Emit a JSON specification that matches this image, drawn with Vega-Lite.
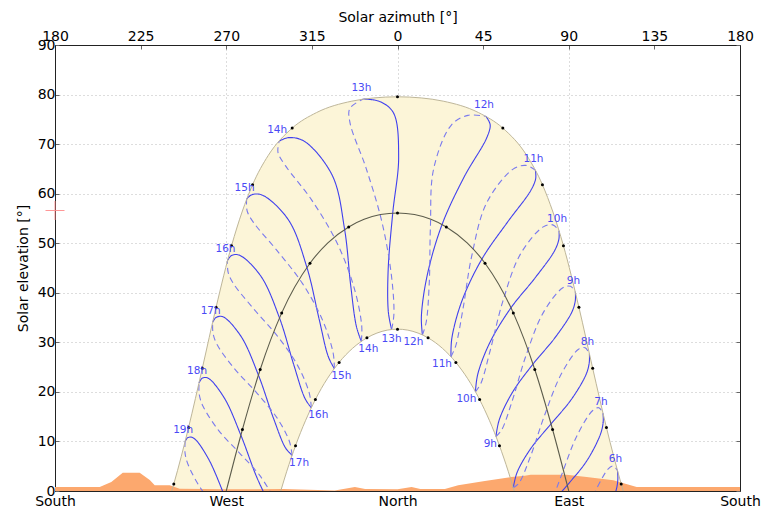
{
 "$schema": "https://vega.github.io/schema/vega-lite/v6.json",
 "width": 685,
 "height": 446,
 "autosize": {"type": "none"},
 "padding": {"left": 55, "top": 45, "right": 23, "bottom": 21},
 "config": {
  "view": {"stroke": null},
  "font": "DejaVu Sans",
  "axis": {"zindex": 1, "labelFont": "DejaVu Sans", "titleFont": "DejaVu Sans", "labelFontSize": 14, "titleFontSize": 14, "labelColor": "#000000", "titleColor": "#000000", "titleFontWeight": "normal", "domainColor": "#222222", "domainWidth": 1, "tickColor": "#666666", "tickSize": -4, "labelFlush": false, "labelOverlap": false, "labelBound": false, "gridColor": "#bbbbbb", "gridDash": [1, 3], "gridWidth": 1}
 },
 "datasets": {
  "arcs": [
   {"curve": "outer", "az": 118.64, "alt": 0, "dot": false},
   {"curve": "outer", "az": 117.57, "alt": 1.42, "dot": true},
   {"curve": "outer", "az": 109.8, "alt": 12.82, "dot": true},
   {"curve": "outer", "az": 102.58, "alt": 24.77, "dot": true},
   {"curve": "outer", "az": 95.35, "alt": 37.06, "dot": true},
   {"curve": "outer", "az": 87.21, "alt": 49.5, "dot": true},
   {"curve": "outer", "az": 76.17, "alt": 61.81, "dot": true},
   {"curve": "outer", "az": 67.9, "alt": 67.73, "dot": false},
   {"curve": "outer", "az": 55.36, "alt": 73.23, "dot": true},
   {"curve": "outer", "az": 42.52, "alt": 76.37, "dot": false},
   {"curve": "outer", "az": 24.0, "alt": 78.67, "dot": false},
   {"curve": "outer", "az": 12.47, "alt": 79.32, "dot": false},
   {"curve": "outer", "az": 0, "alt": 79.55, "dot": true},
   {"curve": "outer", "az": -12.47, "alt": 79.32, "dot": false},
   {"curve": "outer", "az": -24.0, "alt": 78.67, "dot": false},
   {"curve": "outer", "az": -42.52, "alt": 76.37, "dot": false},
   {"curve": "outer", "az": -55.36, "alt": 73.23, "dot": true},
   {"curve": "outer", "az": -67.9, "alt": 67.73, "dot": false},
   {"curve": "outer", "az": -76.17, "alt": 61.81, "dot": true},
   {"curve": "outer", "az": -87.21, "alt": 49.5, "dot": true},
   {"curve": "outer", "az": -95.35, "alt": 37.06, "dot": true},
   {"curve": "outer", "az": -102.58, "alt": 24.77, "dot": true},
   {"curve": "outer", "az": -109.8, "alt": 12.82, "dot": true},
   {"curve": "outer", "az": -117.57, "alt": 1.42, "dot": true},
   {"curve": "outer", "az": -118.64, "alt": 0, "dot": false},
   {"curve": "middle", "az": 90, "alt": 0, "dot": false},
   {"curve": "middle", "az": 81.5, "alt": 12.41, "dot": true},
   {"curve": "middle", "az": 72.15, "alt": 24.52, "dot": true},
   {"curve": "middle", "az": 60.85, "alt": 35.94, "dot": true},
   {"curve": "middle", "az": 46.0, "alt": 45.96, "dot": true},
   {"curve": "middle", "az": 36.6, "alt": 50.07, "dot": false},
   {"curve": "middle", "az": 25.66, "alt": 53.29, "dot": true},
   {"curve": "middle", "az": 17.55, "alt": 54.83, "dot": false},
   {"curve": "middle", "az": 8.92, "alt": 55.78, "dot": false},
   {"curve": "middle", "az": 0, "alt": 56.1, "dot": true},
   {"curve": "middle", "az": -8.92, "alt": 55.78, "dot": false},
   {"curve": "middle", "az": -17.55, "alt": 54.83, "dot": false},
   {"curve": "middle", "az": -25.66, "alt": 53.29, "dot": true},
   {"curve": "middle", "az": -36.6, "alt": 50.07, "dot": false},
   {"curve": "middle", "az": -46.0, "alt": 45.96, "dot": true},
   {"curve": "middle", "az": -60.85, "alt": 35.94, "dot": true},
   {"curve": "middle", "az": -72.15, "alt": 24.52, "dot": true},
   {"curve": "middle", "az": -81.5, "alt": 12.41, "dot": true},
   {"curve": "middle", "az": -90, "alt": 0, "dot": false},
   {"curve": "inner", "az": 61.36, "alt": 0, "dot": false},
   {"curve": "inner", "az": 58.18, "alt": 3.99, "dot": false},
   {"curve": "inner", "az": 53.59, "alt": 9.14, "dot": true},
   {"curve": "inner", "az": 43.15, "alt": 18.46, "dot": true},
   {"curve": "inner", "az": 30.68, "alt": 25.95, "dot": true},
   {"curve": "inner", "az": 23.62, "alt": 28.79, "dot": false},
   {"curve": "inner", "az": 16.07, "alt": 30.91, "dot": true},
   {"curve": "inner", "az": 10.81, "alt": 31.87, "dot": false},
   {"curve": "inner", "az": 0, "alt": 32.66, "dot": true},
   {"curve": "inner", "az": -10.81, "alt": 31.87, "dot": false},
   {"curve": "inner", "az": -16.07, "alt": 30.91, "dot": true},
   {"curve": "inner", "az": -23.62, "alt": 28.79, "dot": false},
   {"curve": "inner", "az": -30.68, "alt": 25.95, "dot": true},
   {"curve": "inner", "az": -43.15, "alt": 18.46, "dot": true},
   {"curve": "inner", "az": -53.59, "alt": 9.14, "dot": true},
   {"curve": "inner", "az": -58.18, "alt": 3.99, "dot": false},
   {"curve": "inner", "az": -61.36, "alt": 0, "dot": false}
  ],
  "horizon": [
   {"az": -180, "h": 0.8}, {"az": -156.5, "h": 0.8}, {"az": -150.4, "h": 1.8}, {"az": -144.4, "h": 3.7},
   {"az": -135.5, "h": 3.7}, {"az": -130.2, "h": 2.2}, {"az": -127.6, "h": 1.15}, {"az": -119.7, "h": 1.15},
   {"az": -114.5, "h": 0.45}, {"az": -90, "h": 0.35}, {"az": -60, "h": 0.4}, {"az": -33, "h": 0.1},
   {"az": -22.4, "h": 0.8}, {"az": -17, "h": 0.4}, {"az": 0, "h": 0.35}, {"az": 7.4, "h": 0.8},
   {"az": 12, "h": 0.4}, {"az": 24.9, "h": 0.4}, {"az": 31.9, "h": 1.15}, {"az": 45.9, "h": 2.0},
   {"az": 59.9, "h": 2.8}, {"az": 66.9, "h": 3.1}, {"az": 70, "h": 3.3}, {"az": 88.9, "h": 3.3},
   {"az": 99.4, "h": 2.8}, {"az": 113.4, "h": 2.15}, {"az": 125.7, "h": 0.8}, {"az": 180, "h": 0.8}
  ],
  "ana": [
   {"hour": "6h", "half": "A", "seq": 1, "az": 115.6, "alt": 4.13},
   {"hour": "6h", "half": "A", "seq": 2, "az": 115.8, "alt": 2.4},
   {"hour": "6h", "half": "A", "seq": 3, "az": 114.7, "alt": -0.12},
   {"hour": "6h", "half": "A", "seq": 4, "az": 107.9, "alt": -6.0},
   {"hour": "6h", "half": "B", "seq": 5, "az": 102.8, "alt": -1.0},
   {"hour": "6h", "half": "B", "seq": 6, "az": 110.5, "alt": 4.36},
   {"hour": "6h", "half": "B", "seq": 7, "az": 113.4, "alt": 5.04},
   {"hour": "6h", "half": "B", "seq": 8, "az": 115.6, "alt": 4.13},
   {"hour": "7h", "half": "A", "seq": 1, "az": 108.0, "alt": 15.7},
   {"hour": "7h", "half": "A", "seq": 2, "az": 108.1, "alt": 13.95},
   {"hour": "7h", "half": "A", "seq": 3, "az": 106.7, "alt": 11.5},
   {"hour": "7h", "half": "A", "seq": 4, "az": 99.5, "alt": 6.1},
   {"hour": "7h", "half": "A", "seq": 5, "az": 89.2, "alt": 1.16},
   {"hour": "7h", "half": "A", "seq": 6, "az": 78.7, "alt": -3.4},
   {"hour": "7h", "half": "B", "seq": 3, "az": 78.3, "alt": -5.0},
   {"hour": "7h", "half": "B", "seq": 4, "az": 86.1, "alt": 3.1},
   {"hour": "7h", "half": "B", "seq": 5, "az": 94.5, "alt": 11.3},
   {"hour": "7h", "half": "B", "seq": 6, "az": 102.75, "alt": 16.3},
   {"hour": "7h", "half": "B", "seq": 7, "az": 105.8, "alt": 16.8},
   {"hour": "7h", "half": "B", "seq": 8, "az": 108.0, "alt": 15.7},
   {"hour": "8h", "half": "A", "seq": 1, "az": 100.85, "alt": 27.7},
   {"hour": "8h", "half": "A", "seq": 2, "az": 100.8, "alt": 26.0},
   {"hour": "8h", "half": "A", "seq": 3, "az": 99.2, "alt": 23.6},
   {"hour": "8h", "half": "A", "seq": 4, "az": 91.4, "alt": 18.5},
   {"hour": "8h", "half": "A", "seq": 5, "az": 80.7, "alt": 13.55},
   {"hour": "8h", "half": "A", "seq": 6, "az": 70.1, "alt": 8.6},
   {"hour": "8h", "half": "A", "seq": 7, "az": 62.9, "alt": 3.8},
   {"hour": "8h", "half": "A", "seq": 8, "az": 60.85, "alt": 0.66},
   {"hour": "8h", "half": "B", "seq": 1, "az": 60.85, "alt": 0.66},
   {"hour": "8h", "half": "B", "seq": 2, "az": 63.85, "alt": 1.6},
   {"hour": "8h", "half": "B", "seq": 3, "az": 69.85, "alt": 6.95},
   {"hour": "8h", "half": "B", "seq": 4, "az": 77.4, "alt": 15.4},
   {"hour": "8h", "half": "B", "seq": 5, "az": 86.2, "alt": 23.7},
   {"hour": "8h", "half": "B", "seq": 6, "az": 95.15, "alt": 28.6},
   {"hour": "8h", "half": "B", "seq": 7, "az": 98.6, "alt": 28.9},
   {"hour": "8h", "half": "B", "seq": 8, "az": 100.85, "alt": 27.7},
   {"hour": "9h", "half": "A", "seq": 1, "az": 93.5, "alt": 40.1},
   {"hour": "9h", "half": "A", "seq": 2, "az": 93.4, "alt": 38.3},
   {"hour": "9h", "half": "A", "seq": 3, "az": 91.5, "alt": 36.0},
   {"hour": "9h", "half": "A", "seq": 4, "az": 82.7, "alt": 30.9},
   {"hour": "9h", "half": "A", "seq": 5, "az": 71.2, "alt": 25.6},
   {"hour": "9h", "half": "A", "seq": 6, "az": 60.4, "alt": 19.9},
   {"hour": "9h", "half": "A", "seq": 7, "az": 53.5, "alt": 14.4},
   {"hour": "9h", "half": "A", "seq": 8, "az": 51.75, "alt": 11.0},
   {"hour": "9h", "half": "B", "seq": 1, "az": 51.75, "alt": 11.0},
   {"hour": "9h", "half": "B", "seq": 2, "az": 54.7, "alt": 12.3},
   {"hour": "9h", "half": "B", "seq": 3, "az": 60.3, "alt": 18.2},
   {"hour": "9h", "half": "B", "seq": 4, "az": 67.5, "alt": 27.3},
   {"hour": "9h", "half": "B", "seq": 5, "az": 76.7, "alt": 36.05},
   {"hour": "9h", "half": "B", "seq": 6, "az": 86.9, "alt": 41.0},
   {"hour": "9h", "half": "B", "seq": 7, "az": 90.9, "alt": 41.3},
   {"hour": "9h", "half": "B", "seq": 8, "az": 93.5, "alt": 40.1},
   {"hour": "10h", "half": "A", "seq": 1, "az": 84.9, "alt": 52.5},
   {"hour": "10h", "half": "A", "seq": 2, "az": 84.8, "alt": 50.8},
   {"hour": "10h", "half": "A", "seq": 3, "az": 82.5, "alt": 48.45},
   {"hour": "10h", "half": "A", "seq": 4, "az": 72.3, "alt": 43.0},
   {"hour": "10h", "half": "A", "seq": 5, "az": 59.6, "alt": 36.95},
   {"hour": "10h", "half": "A", "seq": 6, "az": 48.6, "alt": 30.0},
   {"hour": "10h", "half": "A", "seq": 7, "az": 42.2, "alt": 23.6},
   {"hour": "10h", "half": "A", "seq": 8, "az": 40.95, "alt": 20.0},
   {"hour": "10h", "half": "B", "seq": 1, "az": 40.95, "alt": 20.0},
   {"hour": "10h", "half": "B", "seq": 2, "az": 43.8, "alt": 21.7},
   {"hour": "10h", "half": "B", "seq": 3, "az": 48.75, "alt": 28.4},
   {"hour": "10h", "half": "B", "seq": 4, "az": 55.3, "alt": 38.2},
   {"hour": "10h", "half": "B", "seq": 5, "az": 64.6, "alt": 47.8},
   {"hour": "10h", "half": "B", "seq": 6, "az": 76.6, "alt": 53.3},
   {"hour": "10h", "half": "B", "seq": 7, "az": 81.6, "alt": 53.7},
   {"hour": "10h", "half": "B", "seq": 8, "az": 84.9, "alt": 52.5},
   {"hour": "11h", "half": "A", "seq": 1, "az": 72.5, "alt": 64.7},
   {"hour": "11h", "half": "A", "seq": 2, "az": 72.6, "alt": 63.0},
   {"hour": "11h", "half": "A", "seq": 3, "az": 69.9, "alt": 60.55},
   {"hour": "11h", "half": "A", "seq": 4, "az": 57.9, "alt": 54.3},
   {"hour": "11h", "half": "A", "seq": 5, "az": 44.35, "alt": 46.8},
   {"hour": "11h", "half": "A", "seq": 6, "az": 33.8, "alt": 38.3},
   {"hour": "11h", "half": "A", "seq": 7, "az": 28.55, "alt": 30.8},
   {"hour": "11h", "half": "A", "seq": 8, "az": 28.1, "alt": 27.1},
   {"hour": "11h", "half": "B", "seq": 1, "az": 28.1, "alt": 27.1},
   {"hour": "11h", "half": "B", "seq": 2, "az": 30.6, "alt": 29.3},
   {"hour": "11h", "half": "B", "seq": 3, "az": 34.4, "alt": 36.7},
   {"hour": "11h", "half": "B", "seq": 4, "az": 39.0, "alt": 47.4},
   {"hour": "11h", "half": "B", "seq": 5, "az": 46.8, "alt": 58.1},
   {"hour": "11h", "half": "B", "seq": 6, "az": 60.55, "alt": 64.9},
   {"hour": "11h", "half": "B", "seq": 7, "az": 67.5, "alt": 65.7},
   {"hour": "11h", "half": "B", "seq": 8, "az": 72.5, "alt": 64.7},
   {"hour": "12h", "half": "A", "seq": 1, "az": 46.5, "alt": 75.6},
   {"hour": "12h", "half": "A", "seq": 2, "az": 48.7, "alt": 73.9},
   {"hour": "12h", "half": "A", "seq": 3, "az": 46.8, "alt": 71.2},
   {"hour": "12h", "half": "A", "seq": 4, "az": 35.2, "alt": 63.5},
   {"hour": "12h", "half": "A", "seq": 5, "az": 23.45, "alt": 53.8},
   {"hour": "12h", "half": "A", "seq": 6, "az": 15.6, "alt": 43.5},
   {"hour": "12h", "half": "A", "seq": 7, "az": 12.55, "alt": 35.2},
   {"hour": "12h", "half": "A", "seq": 8, "az": 13.1, "alt": 31.5},
   {"hour": "12h", "half": "B", "seq": 1, "az": 13.1, "alt": 31.5},
   {"hour": "12h", "half": "B", "seq": 2, "az": 15.1, "alt": 34.1},
   {"hour": "12h", "half": "B", "seq": 3, "az": 16.7, "alt": 42.1},
   {"hour": "12h", "half": "B", "seq": 4, "az": 17.3, "alt": 53.3},
   {"hour": "12h", "half": "B", "seq": 5, "az": 19.0, "alt": 65.0},
   {"hour": "12h", "half": "B", "seq": 6, "az": 28.3, "alt": 73.85},
   {"hour": "12h", "half": "B", "seq": 7, "az": 37.0, "alt": 75.8},
   {"hour": "12h", "half": "B", "seq": 8, "az": 46.5, "alt": 75.6},
   {"hour": "13h", "half": "A", "seq": 1, "az": -17.9, "alt": 79.1},
   {"hour": "13h", "half": "A", "seq": 2, "az": -9.35, "alt": 78.6},
   {"hour": "13h", "half": "A", "seq": 3, "az": -2.1, "alt": 76.3},
   {"hour": "13h", "half": "A", "seq": 4, "az": 0.6, "alt": 67.4},
   {"hour": "13h", "half": "A", "seq": 5, "az": -2.5, "alt": 56.1},
   {"hour": "13h", "half": "A", "seq": 6, "az": -4.9, "alt": 44.7},
   {"hour": "13h", "half": "A", "seq": 7, "az": -4.8, "alt": 36.1},
   {"hour": "13h", "half": "A", "seq": 8, "az": -3.1, "alt": 32.6},
   {"hour": "13h", "half": "B", "seq": 1, "az": -3.1, "alt": 32.6},
   {"hour": "13h", "half": "B", "seq": 2, "az": -1.9, "alt": 35.6},
   {"hour": "13h", "half": "B", "seq": 3, "az": -3.2, "alt": 43.5},
   {"hour": "13h", "half": "B", "seq": 4, "az": -8.2, "alt": 54.3},
   {"hour": "13h", "half": "B", "seq": 5, "az": -16.6, "alt": 65.25},
   {"hour": "13h", "half": "B", "seq": 6, "az": -24.9, "alt": 74.2},
   {"hour": "13h", "half": "B", "seq": 7, "az": -25.05, "alt": 77.2},
   {"hour": "13h", "half": "B", "seq": 8, "az": -17.9, "alt": 79.1},
   {"hour": "14h", "half": "A", "seq": 1, "az": -62.2, "alt": 70.6},
   {"hour": "14h", "half": "A", "seq": 2, "az": -57.3, "alt": 71.3},
   {"hour": "14h", "half": "A", "seq": 3, "az": -49.1, "alt": 70.6},
   {"hour": "14h", "half": "A", "seq": 4, "az": -34.3, "alt": 63.7},
   {"hour": "14h", "half": "A", "seq": 5, "az": -27.8, "alt": 52.8},
   {"hour": "14h", "half": "A", "seq": 6, "az": -24.6, "alt": 41.5},
   {"hour": "14h", "half": "A", "seq": 7, "az": -21.6, "alt": 33.2},
   {"hour": "14h", "half": "A", "seq": 8, "az": -19.0, "alt": 30.2},
   {"hour": "14h", "half": "B", "seq": 1, "az": -19.0, "alt": 30.2},
   {"hour": "14h", "half": "B", "seq": 2, "az": -18.8, "alt": 33.3},
   {"hour": "14h", "half": "B", "seq": 3, "az": -22.6, "alt": 40.75},
   {"hour": "14h", "half": "B", "seq": 4, "az": -31.7, "alt": 50.0},
   {"hour": "14h", "half": "B", "seq": 5, "az": -45.25, "alt": 58.8},
   {"hour": "14h", "half": "B", "seq": 6, "az": -59.0, "alt": 65.7},
   {"hour": "14h", "half": "B", "seq": 7, "az": -62.8, "alt": 68.3},
   {"hour": "14h", "half": "B", "seq": 8, "az": -62.2, "alt": 70.6},
   {"hour": "15h", "half": "A", "seq": 1, "az": -79.3, "alt": 58.9},
   {"hour": "15h", "half": "A", "seq": 2, "az": -76.5, "alt": 59.8},
   {"hour": "15h", "half": "A", "seq": 3, "az": -71.0, "alt": 59.7},
   {"hour": "15h", "half": "A", "seq": 4, "az": -57.3, "alt": 54.7},
   {"hour": "15h", "half": "A", "seq": 5, "az": -47.6, "alt": 45.1},
   {"hour": "15h", "half": "A", "seq": 6, "az": -41.2, "alt": 34.7},
   {"hour": "15h", "half": "A", "seq": 7, "az": -36.4, "alt": 27.15},
   {"hour": "15h", "half": "A", "seq": 8, "az": -33.2, "alt": 24.7},
   {"hour": "15h", "half": "B", "seq": 1, "az": -33.2, "alt": 24.7},
   {"hour": "15h", "half": "B", "seq": 2, "az": -33.8, "alt": 27.8},
   {"hour": "15h", "half": "B", "seq": 3, "az": -39.2, "alt": 34.3},
   {"hour": "15h", "half": "B", "seq": 4, "az": -49.9, "alt": 41.85},
   {"hour": "15h", "half": "B", "seq": 5, "az": -63.5, "alt": 48.6},
   {"hour": "15h", "half": "B", "seq": 6, "az": -75.7, "alt": 54.2},
   {"hour": "15h", "half": "B", "seq": 7, "az": -79.0, "alt": 56.5},
   {"hour": "15h", "half": "B", "seq": 8, "az": -79.3, "alt": 58.9},
   {"hour": "16h", "half": "A", "seq": 1, "az": -89.35, "alt": 46.5},
   {"hour": "16h", "half": "A", "seq": 2, "az": -87.3, "alt": 47.5},
   {"hour": "16h", "half": "A", "seq": 3, "az": -83.2, "alt": 47.6},
   {"hour": "16h", "half": "A", "seq": 4, "az": -71.9, "alt": 43.4},
   {"hour": "16h", "half": "A", "seq": 5, "az": -62.0, "alt": 34.9},
   {"hour": "16h", "half": "A", "seq": 6, "az": -54.5, "alt": 25.45},
   {"hour": "16h", "half": "A", "seq": 7, "az": -48.65, "alt": 18.7},
   {"hour": "16h", "half": "A", "seq": 8, "az": -45.3, "alt": 16.8},
   {"hour": "16h", "half": "B", "seq": 1, "az": -45.3, "alt": 16.8},
   {"hour": "16h", "half": "B", "seq": 2, "az": -46.4, "alt": 19.8},
   {"hour": "16h", "half": "B", "seq": 3, "az": -52.6, "alt": 25.4},
   {"hour": "16h", "half": "B", "seq": 4, "az": -63.4, "alt": 31.4},
   {"hour": "16h", "half": "B", "seq": 5, "az": -75.9, "alt": 36.9},
   {"hour": "16h", "half": "B", "seq": 6, "az": -86.3, "alt": 41.9},
   {"hour": "16h", "half": "B", "seq": 7, "az": -89.0, "alt": 44.1},
   {"hour": "16h", "half": "B", "seq": 8, "az": -89.35, "alt": 46.5},
   {"hour": "17h", "half": "A", "seq": 1, "az": -97.15, "alt": 34.05},
   {"hour": "17h", "half": "A", "seq": 2, "az": -95.4, "alt": 35.0},
   {"hour": "17h", "half": "A", "seq": 3, "az": -92.0, "alt": 35.2},
   {"hour": "17h", "half": "A", "seq": 4, "az": -82.4, "alt": 31.3},
   {"hour": "17h", "half": "A", "seq": 5, "az": -73.1, "alt": 23.4},
   {"hour": "17h", "half": "A", "seq": 6, "az": -65.2, "alt": 14.7},
   {"hour": "17h", "half": "A", "seq": 7, "az": -58.85, "alt": 8.7},
   {"hour": "17h", "half": "A", "seq": 8, "az": -55.4, "alt": 7.2},
   {"hour": "17h", "half": "B", "seq": 1, "az": -55.4, "alt": 7.2},
   {"hour": "17h", "half": "B", "seq": 2, "az": -56.8, "alt": 10.0},
   {"hour": "17h", "half": "B", "seq": 3, "az": -63.4, "alt": 14.8},
   {"hour": "17h", "half": "B", "seq": 4, "az": -74.0, "alt": 19.8},
   {"hour": "17h", "half": "B", "seq": 5, "az": -85.5, "alt": 24.6},
   {"hour": "17h", "half": "B", "seq": 6, "az": -94.6, "alt": 29.4},
   {"hour": "17h", "half": "B", "seq": 7, "az": -96.9, "alt": 31.7},
   {"hour": "17h", "half": "B", "seq": 8, "az": -97.15, "alt": 34.05},
   {"hour": "18h", "half": "A", "seq": 1, "az": -104.3, "alt": 21.8},
   {"hour": "18h", "half": "A", "seq": 2, "az": -102.7, "alt": 22.75},
   {"hour": "18h", "half": "A", "seq": 3, "az": -99.7, "alt": 22.8},
   {"hour": "18h", "half": "A", "seq": 4, "az": -91.15, "alt": 18.85},
   {"hour": "18h", "half": "A", "seq": 5, "az": -82.3, "alt": 11.25},
   {"hour": "18h", "half": "A", "seq": 6, "az": -74.2, "alt": 3.0},
   {"hour": "18h", "half": "A", "seq": 7, "az": -67.6, "alt": -2.44},
   {"hour": "18h", "half": "B", "seq": 2, "az": -65.7, "alt": -0.92},
   {"hour": "18h", "half": "B", "seq": 3, "az": -72.6, "alt": 3.25},
   {"hour": "18h", "half": "B", "seq": 4, "az": -83.0, "alt": 7.65},
   {"hour": "18h", "half": "B", "seq": 5, "az": -93.95, "alt": 12.2},
   {"hour": "18h", "half": "B", "seq": 6, "az": -102.2, "alt": 17.1},
   {"hour": "18h", "half": "B", "seq": 7, "az": -104.2, "alt": 19.5},
   {"hour": "18h", "half": "B", "seq": 8, "az": -104.3, "alt": 21.8},
   {"hour": "19h", "half": "A", "seq": 1, "az": -111.6, "alt": 10.0},
   {"hour": "19h", "half": "A", "seq": 2, "az": -110.1, "alt": 10.8},
   {"hour": "19h", "half": "A", "seq": 3, "az": -107.25, "alt": 10.7},
   {"hour": "19h", "half": "A", "seq": 4, "az": -99.3, "alt": 6.46},
   {"hour": "19h", "half": "A", "seq": 5, "az": -90.8, "alt": -1.16},
   {"hour": "19h", "half": "B", "seq": 4, "az": -91.4, "alt": -4.8},
   {"hour": "19h", "half": "B", "seq": 5, "az": -102.2, "alt": -0.14},
   {"hour": "19h", "half": "B", "seq": 6, "az": -109.9, "alt": 5.18},
   {"hour": "19h", "half": "B", "seq": 7, "az": -111.65, "alt": 7.65},
   {"hour": "19h", "half": "B", "seq": 8, "az": -111.6, "alt": 10.0}
  ],
  "marker": [{"az": -180, "alt": 56.6}]
 },
 "resolve": {"axis": {"x": "independent", "y": "independent"}},
 "layer": [
  {
   "data": {"name": "arcs"},
   "transform": [{"filter": "datum.curve == 'outer'"}],
   "mark": {"type": "area", "color": "#fcf5d8", "interpolate": "monotone"},
   "encoding": {
    "x": {"field": "az", "type": "quantitative", "scale": {"domain": [-180, 180], "nice": false, "zero": false},
     "axis": {"orient": "bottom", "values": [-180, -90, 0, 90, 180], "labelExpr": "datum.value == 0 ? 'North' : (datum.value == -90 ? 'West' : (datum.value == 90 ? 'East' : 'South'))", "title": null, "grid": true, "labelPadding": 7}},
    "y": {"field": "alt", "type": "quantitative", "scale": {"domain": [0, 90], "nice": false, "zero": false},
     "axis": {"orient": "left", "values": [0, 10, 20, 30, 40, 50, 60, 70, 80, 90], "title": "Solar elevation [°]", "grid": true, "labelPadding": 4, "titlePadding": 7}},
    "y2": {"datum": 0}
   }
  },
  {
   "data": {"name": "arcs"},
   "transform": [{"filter": "datum.curve == 'inner'"}],
   "mark": {"type": "area", "color": "#ffffff", "interpolate": "monotone"},
   "encoding": {
    "x": {"field": "az", "type": "quantitative", "scale": {"domain": [-180, 180], "nice": false, "zero": false},
     "axis": {"orient": "top", "values": [-180, -135, -90, -45, 0, 45, 90, 135, 180], "labelExpr": "'' + (datum.value < 0 ? datum.value + 360 : datum.value)", "title": "Solar azimuth [°]", "grid": false, "labelPadding": 6, "titlePadding": 5}},
    "y": {"field": "alt", "type": "quantitative", "scale": {"domain": [0, 90], "nice": false, "zero": false},
     "axis": {"orient": "right", "values": [0, 10, 20, 30, 40, 50, 60, 70, 80, 90], "labels": false, "title": null, "grid": false}},
    "y2": {"datum": 0}
   }
  },
  {
   "data": {"name": "horizon"},
   "mark": {"type": "area", "color": "#fca86e"},
   "encoding": {
    "x": {"field": "az", "type": "quantitative", "axis": null},
    "y": {"field": "h", "type": "quantitative", "axis": null},
    "y2": {"datum": 0}
   }
  },
  {
   "data": {"name": "ana"},
   "mark": {"type": "line", "interpolate": "catmull-rom", "clip": true, "strokeWidth": 1.1},
   "encoding": {
    "x": {"field": "az", "type": "quantitative", "axis": null},
    "y": {"field": "alt", "type": "quantitative", "axis": null},
    "detail": {"field": "hour"},
    "order": {"field": "seq", "type": "quantitative"},
    "color": {"field": "half", "type": "nominal", "scale": {"domain": ["A", "B"], "range": ["#4040ee", "#7a7aee"]}, "legend": null},
    "strokeDash": {"field": "half", "type": "nominal", "scale": {"domain": ["A", "B"], "range": [[1, 0], [6, 4]]}, "legend": null}
   }
  },
  {
   "data": {"name": "arcs"},
   "transform": [{"filter": "datum.curve != 'middle'"}],
   "mark": {"type": "line", "interpolate": "monotone", "color": "#beb699", "strokeWidth": 1},
   "encoding": {
    "x": {"field": "az", "type": "quantitative", "axis": null},
    "y": {"field": "alt", "type": "quantitative", "axis": null},
    "detail": {"field": "curve"}
   }
  },
  {
   "data": {"name": "arcs"},
   "transform": [{"filter": "datum.curve == 'middle'"}],
   "mark": {"type": "line", "interpolate": "monotone", "color": "#5c5c4c", "strokeWidth": 1.1},
   "encoding": {
    "x": {"field": "az", "type": "quantitative", "axis": null},
    "y": {"field": "alt", "type": "quantitative", "axis": null}
   }
  },
  {
   "data": {"name": "arcs"},
   "transform": [{"filter": "datum.dot"}],
   "mark": {"type": "point", "shape": "circle", "filled": true, "color": "#000000", "size": 9, "opacity": 1},
   "encoding": {
    "x": {"field": "az", "type": "quantitative", "axis": null},
    "y": {"field": "alt", "type": "quantitative", "axis": null}
   }
  },
  {
   "data": {"name": "ana"},
   "transform": [{"filter": "datum.half == 'A' && datum.seq == 1"}],
   "mark": {"type": "text", "fontSize": 10.5, "color": "#4a4af5", "align": "center", "baseline": "middle", "dx": -2, "dy": -11.5},
   "encoding": {
    "x": {"field": "az", "type": "quantitative", "axis": null},
    "y": {"field": "alt", "type": "quantitative", "axis": null},
    "text": {"field": "hour"}
   }
  },
  {
   "data": {"name": "ana"},
   "transform": [{"filter": "datum.half == 'A' && datum.seq == 8 && datum.alt > 5 && datum.az < -10"}],
   "mark": {"type": "text", "fontSize": 10.5, "color": "#4a4af5", "align": "left", "baseline": "middle", "dx": -3, "dy": 7.5},
   "encoding": {
    "x": {"field": "az", "type": "quantitative", "axis": null},
    "y": {"field": "alt", "type": "quantitative", "axis": null},
    "text": {"field": "hour"}
   }
  },
  {
   "data": {"name": "ana"},
   "transform": [{"filter": "datum.half == 'A' && datum.seq == 8 && datum.alt > 5 && datum.az > 10"}],
   "mark": {"type": "text", "fontSize": 10.5, "color": "#4a4af5", "align": "right", "baseline": "middle", "dx": 1, "dy": 7.5},
   "encoding": {
    "x": {"field": "az", "type": "quantitative", "axis": null},
    "y": {"field": "alt", "type": "quantitative", "axis": null},
    "text": {"field": "hour"}
   }
  },
  {
   "data": {"name": "ana"},
   "transform": [{"filter": "datum.half == 'A' && datum.seq == 8 && datum.alt > 5 && datum.az >= -10 && datum.az <= 10"}],
   "mark": {"type": "text", "fontSize": 10.5, "color": "#4a4af5", "align": "center", "baseline": "middle", "dx": 0, "dy": 9.5},
   "encoding": {
    "x": {"field": "az", "type": "quantitative", "axis": null},
    "y": {"field": "alt", "type": "quantitative", "axis": null},
    "text": {"field": "hour"}
   }
  },
  {
   "data": {"name": "marker"},
   "mark": {"type": "point", "shape": "M-1,0H1M0,-1V1", "color": "#ff8c8c", "size": 361, "strokeWidth": 1, "opacity": 0.9},
   "encoding": {
    "x": {"field": "az", "type": "quantitative", "axis": null},
    "y": {"field": "alt", "type": "quantitative", "axis": null}
   }
  }
 ]
}
